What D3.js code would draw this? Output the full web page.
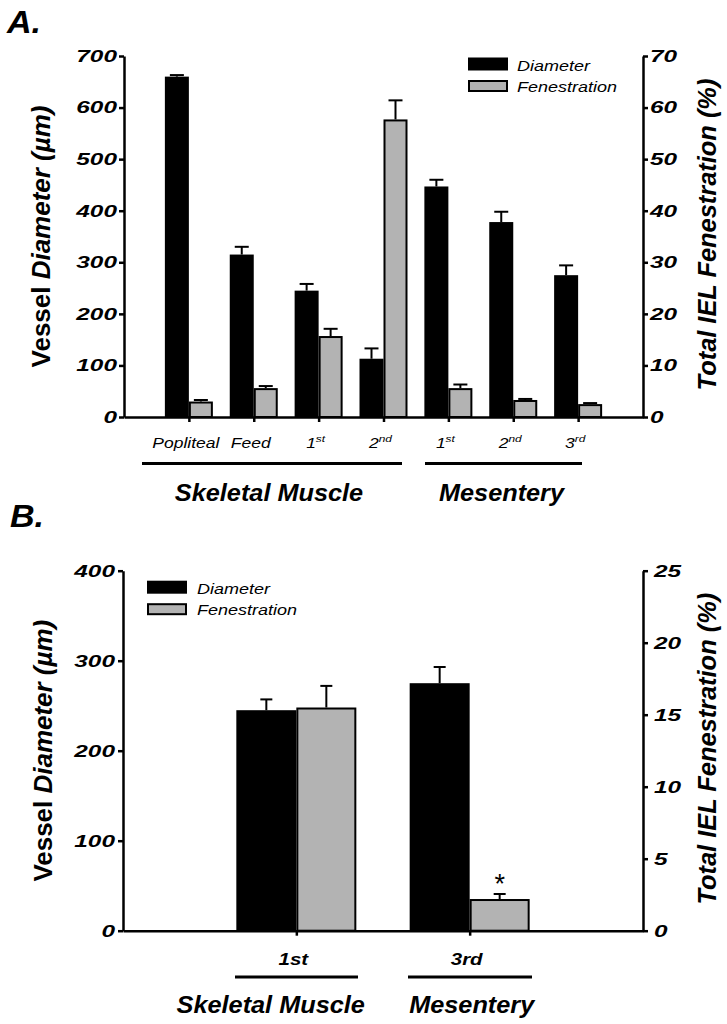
<!DOCTYPE html>
<html><head><meta charset="utf-8">
<script src="https://cdn.jsdelivr.net/npm/d3@7"></script>
<style>
body{margin:0;background:#fff}
svg{display:block}
text{font-family:"Liberation Sans",Arial,Helvetica,sans-serif;fill:#000}
</style>
</head><body>
<svg id="c" width="727" height="1024"></svg>
<script>
// ---------- DATA ----------
const legendLabels = ["Diameter", "Fenestration"];
const groupLabels = ["Skeletal Muscle", "Mesentery"];

// Panel A
const categoriesA = ["Popliteal", "Feed", "1st", "2nd", "1st", "2nd", "3rd"];
const diameterA = [660, 315, 245, 113, 447, 378, 275];
const diameterErrA = [3, 15, 13, 20, 13, 20, 19];
const fenestrationA = [3.0, 5.6, 15.7, 57.7, 5.6, 3.3, 2.5];
const fenestrationErrA = [0.3, 0.4, 1.4, 3.7, 0.7, 0.2, 0.2];
const leftTicksA = [0, 100, 200, 300, 400, 500, 600, 700];
const rightTicksA = [0, 10, 20, 30, 40, 50, 60, 70];

// Panel B
const categoriesB = ["1st", "3rd"];
const diameterB = [245, 275];
const diameterErrB = [12, 18];
const fenestrationB = [15.5, 2.2];
const fenestrationErrB = [1.5, 0.35];
const markersB = ["", "*"];
const leftTicksB = [0, 100, 200, 300, 400];
const rightTicksB = [0, 5, 10, 15, 20, 25];

const leftTitle = ["Vessel ", "Diameter (µm)"];
const rightTitle = "Total IEL Fenestration (%)";

// ---------- LAYOUT ----------
const GREY = "#b3b3b3";
const svg = d3.select("#c");

function stretched(parent, x, y, sx, anchor) {
  return parent.append("g")
    .attr("transform", `translate(${x},${y}) scale(${sx},1)`)
    .append("text").attr("text-anchor", anchor);
}

function fitRotated(textSel, x, y, targetLen) {
  const len = textSel.node().getComputedTextLength();
  const s = targetLen / len;
  textSel.attr("transform", `translate(${x},${y}) rotate(-90) scale(${s},1)`);
}

function drawPanel(cfg) {
  const g = svg.append("g");
  const n = cfg.categories.length;
  const x = d3.scalePoint().domain(d3.range(n)).range([cfg.x0, cfg.x1]).padding(1);
  const yL = d3.scaleLinear().domain([0, d3.max(cfg.leftTicks)]).range([cfg.yBot, cfg.yTop]);
  const yR = d3.scaleLinear().domain([0, d3.max(cfg.rightTicks)]).range([cfg.yBot, cfg.yTop]);

  // panel label
  stretched(g, cfg.panelLabelPos[0], cfg.panelLabelPos[1], 1.1, "start")
    .attr("font-size", 31).attr("font-weight", "bold").attr("font-style", "italic")
    .text(cfg.panelLabel);

  // bars: diameter (black)
  g.append("g").selectAll("rect").data(cfg.diameter).join("rect")
    .attr("x", (d, i) => x(i) - cfg.bw)
    .attr("y", d => yL(d))
    .attr("width", cfg.bw)
    .attr("height", d => yL(0) - yL(d))
    .attr("fill", "#000");

  // error bars diameter
  const eD = g.append("g").attr("stroke", "#000").attr("stroke-width", 2);
  cfg.diameter.forEach((d, i) => {
    const cx = x(i) - cfg.bw / 2;
    const top = yL(d + cfg.diameterErr[i]);
    eD.append("line").attr("x1", cx).attr("x2", cx).attr("y1", yL(d)).attr("y2", top);
    eD.append("line").attr("x1", cx - cfg.capW / 2).attr("x2", cx + cfg.capW / 2).attr("y1", top).attr("y2", top);
  });

  // bars: fenestration (grey)
  g.append("g").selectAll("rect").data(cfg.fenestration).join("rect")
    .attr("x", (d, i) => x(i) + 1)
    .attr("y", d => yR(d) + 1)
    .attr("width", cfg.bw - 2)
    .attr("height", d => Math.max(0, yR(0) - yR(d) - 1))
    .attr("fill", GREY).attr("stroke", "#000").attr("stroke-width", 2);

  const eF = g.append("g").attr("stroke", "#000").attr("stroke-width", 2);
  cfg.fenestration.forEach((d, i) => {
    const cx = x(i) + cfg.bw / 2;
    const top = yR(d + cfg.fenestrationErr[i]);
    eF.append("line").attr("x1", cx).attr("x2", cx).attr("y1", yR(d)).attr("y2", top);
    eF.append("line").attr("x1", cx - cfg.capW / 2).attr("x2", cx + cfg.capW / 2).attr("y1", top).attr("y2", top);
  });

  // significance markers
  if (cfg.markers) {
    cfg.markers.forEach((m, i) => {
      if (!m) return;
      g.append("text").attr("x", x(i) + cfg.bw / 2).attr("y", yR(cfg.fenestration[i] + cfg.fenestrationErr[i]) - 1)
        .attr("text-anchor", "middle").attr("font-size", 27).text(m);
    });
  }

  // axes
  const styleAxis = sel => {
    sel.selectAll("path.domain").attr("stroke", "#000").attr("stroke-width", 2.5);
    sel.selectAll(".tick line").attr("stroke", "#000").attr("stroke-width", 2.5);
    sel.selectAll(".tick text").remove();
  };
  g.append("g").attr("transform", `translate(${cfg.x0},0)`)
    .call(d3.axisLeft(yL).tickValues(cfg.leftTicks).tickSize(5).tickSizeOuter(0).tickFormat(""))
    .call(styleAxis);
  g.append("g").attr("transform", `translate(${cfg.x1},0)`)
    .call(d3.axisRight(yR).tickValues(cfg.rightTicks).tickSize(5).tickSizeOuter(0).tickFormat(""))
    .call(styleAxis);
  g.append("g").attr("transform", `translate(0,${cfg.yBot})`)
    .call(d3.axisBottom(x).tickSize(5).tickSizeOuter(0).tickFormat(""))
    .call(styleAxis);

  // tick labels
  cfg.leftTicks.forEach(t => {
    stretched(g, cfg.leftLabelX, yL(t) + 5.8, 1.48, "end")
      .attr("font-size", 16.5).attr("font-weight", "bold").attr("font-style", "italic").text(t);
  });
  cfg.rightTicks.forEach(t => {
    stretched(g, cfg.rightLabelX, yR(t) + 5.8, 1.48, "start")
      .attr("font-size", 16.5).attr("font-weight", "bold").attr("font-style", "italic").text(t);
  });

  // category labels
  cfg.categories.forEach((c, i) => {
    const t = stretched(g, x(i) - 3, cfg.catY, cfg.catSx, "middle")
      .attr("font-size", cfg.catSize).attr("font-style", "italic")
      .attr("font-weight", cfg.catBold ? "bold" : "normal");
    const m = c.match(/^(\d+)(st|nd|rd|th)$/);
    if (cfg.sup && m) {
      t.append("tspan").text(m[1]);
      t.append("tspan").attr("font-size", cfg.catSize * 0.68).attr("dy", -6).text(m[2]);
    } else {
      t.text(c);
    }
  });

  // group lines & labels
  cfg.groupLines.forEach((ln, k) => {
    g.append("line").attr("x1", ln[0]).attr("x2", ln[1]).attr("y1", cfg.groupLineY).attr("y2", cfg.groupLineY)
      .attr("stroke", "#000").attr("stroke-width", 3.2);
    stretched(g, cfg.groupLabelX[k], cfg.groupLabelY, 1.1, "middle")
      .attr("font-size", 23).attr("font-weight", "bold").attr("font-style", "italic")
      .text(groupLabels[k]);
  });

  // axis titles
  const cy = (cfg.yTop + cfg.yBot) / 2;
  const tl = g.append("text")
    .attr("text-anchor", "middle").attr("font-size", 25).attr("font-weight", "bold");
  tl.append("tspan").text(leftTitle[0]);
  tl.append("tspan").attr("font-style", "italic").text(leftTitle[1]);
  fitRotated(tl, cfg.titleLX, cy, cfg.titleLLen);
  const tr = g.append("text")
    .attr("text-anchor", "middle").attr("font-size", 25).attr("font-weight", "bold").attr("font-style", "italic")
    .text(rightTitle);
  fitRotated(tr, cfg.titleRX, cy - 2, cfg.titleRLen);

  // legend
  const L = cfg.legend;
  g.append("rect").attr("x", L.x).attr("y", L.y).attr("width", 40).attr("height", 13).attr("fill", "#000");
  g.append("rect").attr("x", L.x + 1).attr("y", L.y + 23.5).attr("width", 38).attr("height", 10)
    .attr("fill", GREY).attr("stroke", "#000").attr("stroke-width", 2);
  legendLabels.forEach((lab, k) => {
    stretched(g, L.tx, L.y + 13 + k * 21.3, 1.2, "start")
      .attr("font-size", 15).attr("font-style", "italic").text(lab);
  });
}

drawPanel({
  categories: categoriesA, diameter: diameterA, diameterErr: diameterErrA,
  fenestration: fenestrationA, fenestrationErr: fenestrationErrA,
  leftTicks: leftTicksA, rightTicks: rightTicksA,
  x0: 124, x1: 643, yTop: 56, yBot: 417, bw: 24, capW: 14,
  leftLabelX: 117, rightLabelX: 650,
  catY: 448, catSize: 14, catBold: false, catSx: 1.25, sup: true,
  groupLineY: 463.5, groupLines: [[142, 402], [425, 582]], groupLabelX: [269, 501.5], groupLabelY: 501,
  panelLabel: "A.", panelLabelPos: [7, 33],
  titleLX: 50, titleRX: 716, titleLLen: 262, titleRLen: 312,
  legend: { x: 468, y: 57.5, tx: 517 }
});

drawPanel({
  categories: categoriesB, diameter: diameterB, diameterErr: diameterErrB,
  fenestration: fenestrationB, fenestrationErr: fenestrationErrB, markers: markersB,
  leftTicks: leftTicksB, rightTicks: rightTicksB,
  x0: 123, x1: 643, yTop: 570.7, yBot: 930.7, bw: 60, capW: 12,
  leftLabelX: 115, rightLabelX: 654,
  catY: 965, catSize: 16, catBold: true, catSx: 1.28, sup: false,
  groupLineY: 977, groupLines: [[235, 358], [408, 532]], groupLabelX: [270.7, 471.7], groupLabelY: 1012.5,
  panelLabel: "B.", panelLabelPos: [10, 527],
  titleLX: 52, titleRX: 716, titleLLen: 262, titleRLen: 312,
  legend: { x: 147, y: 580.7, tx: 197 }
});
</script>
</body></html>
